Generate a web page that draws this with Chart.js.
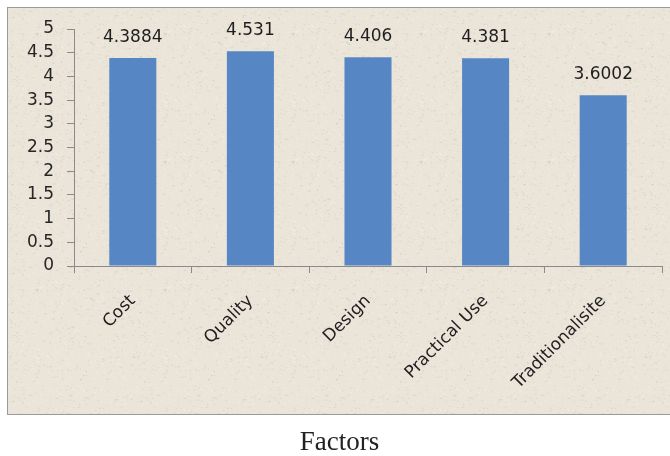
<!DOCTYPE html>
<html>
<head>
<meta charset="utf-8">
<script src="https://cdn.jsdelivr.net/npm/chart.js@4/dist/chart.umd.min.js"></script>
<style>
  html, body { margin: 0; padding: 0; background: #ffffff; }
  #wrap { position: relative; width: 670px; height: 456px; }
</style>
</head>
<body>
<div id="wrap"><canvas id="chart" width="670" height="456"></canvas></div>
<script>
// Mean scores per factor
const categories = ['Cost', 'Quality', 'Design', 'Practical Use', 'Traditionalisite'];
const meanScores = [4.3884, 4.531, 4.406, 4.381, 3.6002];
const yTicks = { min: 0, max: 5, step: 0.5 };
const axisTitle = 'Factors';

// Paper-like panel behind the plot, with light speckles
function makePaperPattern(ctx) {
  const c = document.createElement('canvas');
  c.width = 128; c.height = 128;
  const g = c.getContext('2d');
  g.fillStyle = '#ebe4d9';
  g.fillRect(0, 0, 128, 128);
  let s = 12345;
  const next = () => { s = (s * 1103515245 + 12345) & 0x7fffffff; return s / 0x7fffffff; };
  for (let i = 0; i < 900; i++) {
    const x = next() * 128, y = next() * 128, t = next();
    g.fillStyle = t < 0.5 ? 'rgba(160,150,135,0.22)' : 'rgba(255,255,250,0.35)';
    g.fillRect(x, y, 1 + (next() < 0.2 ? 1 : 0), 1);
  }
  return ctx.createPattern(c, 'repeat');
}

const panelPlugin = {
  id: 'panel',
  beforeDraw(chart) {
    const ctx = chart.ctx;
    ctx.save();
    ctx.fillStyle = makePaperPattern(ctx);
    ctx.fillRect(7, 7, 670 - 7, 415 - 7);
    ctx.strokeStyle = '#9a9a9a';
    ctx.lineWidth = 1;
    ctx.strokeRect(7.5, 7.5, 670, 407);
    ctx.restore();
  }
};

// Value label above each bar
const valueLabels = {
  id: 'valueLabels',
  afterDatasetsDraw(chart) {
    const ctx = chart.ctx;
    const meta = chart.getDatasetMeta(0);
    ctx.save();
    ctx.font = '17px "DejaVu Sans"';
    ctx.fillStyle = '#1e1e1e';
    ctx.textAlign = 'center';
    ctx.textBaseline = 'bottom';
    meta.data.forEach((bar, i) => {
      ctx.fillText(String(meanScores[i]), bar.x, bar.y - 12);
    });
    ctx.restore();
  }
};

new Chart(document.getElementById('chart'), {
  type: 'bar',
  data: {
    labels: categories,
    datasets: [{
      data: meanScores,
      backgroundColor: '#5687c4',
      borderWidth: 0,
      barPercentage: 0.4,
      categoryPercentage: 1.0
    }]
  },
  options: {
    responsive: false,
    animation: false,
    events: [],
    layout: { autoPadding: false, padding: { left: 17, right: 8, top: 29, bottom: 0 } },
    plugins: {
      legend: { display: false },
      tooltip: { enabled: false },
      title: {
        display: true,
        position: 'bottom',
        text: axisTitle,
        color: '#222222',
        font: { family: '"Liberation Serif", "Times New Roman", serif', size: 27, weight: 'normal', lineHeight: 1.0 },
        padding: { top: 14, bottom: 0 }
      }
    },
    scales: {
      x: {
        offset: true,
        grid: { display: true, offset: true, drawOnChartArea: false, drawTicks: true, tickLength: 7, color: '#8a8a8a' },
        border: { display: true, color: '#8a8a8a' },
        ticks: {
          color: '#1e1e1e',
          font: { family: '"DejaVu Sans"', size: 17 },
          minRotation: 45,
          maxRotation: 45,
          padding: 18,
          autoSkip: false
        },
        afterFit(scale) { scale.height = 415 - 266; }
      },
      y: {
        min: yTicks.min,
        max: yTicks.max,
        grid: { display: true, drawOnChartArea: false, drawTicks: true, tickLength: 7, color: '#8a8a8a' },
        border: { display: true, color: '#8a8a8a' },
        ticks: {
          stepSize: yTicks.step,
          autoSkip: false,
          color: '#262626',
          font: { family: '"DejaVu Sans"', size: 17 },
          padding: 13,
          callback: (v) => String(v)
        },
        afterFit(scale) { scale.width = 57; }
      }
    }
  },
  plugins: [panelPlugin, valueLabels]
});
</script>
</body>
</html>
